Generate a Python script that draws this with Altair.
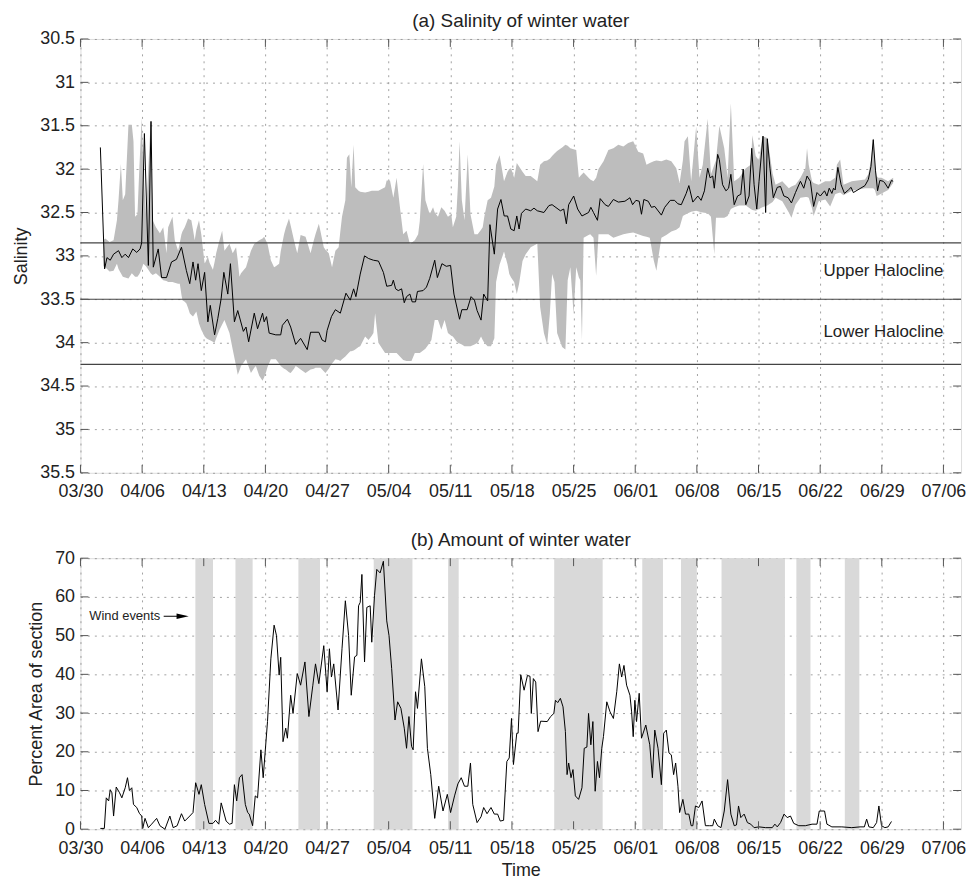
import altair as alt
import pandas as pd

# ---------------- data ----------------
X_TICKS = [0, 7, 14, 21, 28, 35, 42, 49, 56, 63, 70, 77, 84, 91, 98]
X_LABELS = ["03/30", "04/06", "04/13", "04/20", "04/27", "05/04", "05/11", "05/18",
            "05/25", "06/01", "06/08", "06/15", "06/22", "06/29", "07/06"]
SAL_TICKS = [30.5, 31, 31.5, 32, 32.5, 33, 33.5, 34, 34.5, 35, 35.5]
PCT_TICKS = [0, 10, 20, 30, 40, 50, 60, 70]
HALOCLINE = [32.85, 33.5, 34.25]
HALO_LABELS = ["Upper Halocline", "Lower Halocline"]
HALO_LABEL_SAL = [33.17, 33.88]

SAL_DAY = [2.26, 2.74, 3.01, 3.38, 3.76, 4.32, 4.70, 5.08, 5.45, 5.94, 6.39, 6.77, 6.95, 7.26, 7.71, 8.01,
           8.27, 8.83, 9.21, 9.77, 10.34, 10.9, 11.47, 12.03, 12.41, 12.78, 13.08, 13.35, 13.72, 14.1,
           14.47, 14.74, 15.23, 15.6, 15.98, 16.28, 16.73, 17.03, 17.48, 17.86, 18.5, 18.8, 19.1, 19.74,
           20.11, 20.68, 20.86, 21.13, 21.43, 22.18, 22.74, 22.93, 23.5, 23.87, 24.44, 25.0, 25.75,
           26.13, 27.07, 27.44, 27.82, 28.01, 28.5, 28.95, 29.51, 30.15, 30.64, 31.02, 31.28, 31.77,
           32.26, 32.71, 33.27, 33.84, 34.4, 34.78, 35.34, 35.53, 35.79, 36.09, 36.47, 36.77, 37.03,
           37.41, 37.67, 38.05, 38.27, 38.91, 39.29, 39.66, 40.23, 40.53, 41.05, 41.54, 42.03, 42.41,
           43.05, 43.31, 43.91, 44.36, 44.74, 45.04, 45.49, 45.79, 46.24, 46.5, 47.0, 47.37, 47.75,
           48.12, 48.5, 48.87, 49.25, 49.55, 49.81, 50.08, 50.56, 51.13, 51.5, 51.88, 52.63, 53.2,
           53.56, 54.5, 54.88, 55.18, 55.44, 56.01, 56.46, 56.95, 57.7, 57.96, 58.26, 58.71, 59.02,
           59.58, 59.95, 60.52, 61.08, 61.83, 62.4, 62.7, 63.08, 63.45, 63.71, 63.98, 64.47, 64.84,
           65.22, 65.97, 66.35, 66.98, 67.47, 67.85, 68.23, 68.79, 69.09, 69.54, 70.11, 70.48, 70.86,
           71.23, 71.5, 71.8, 71.98, 72.36, 72.55, 72.92, 73.3, 73.6, 73.86, 74.24, 74.62, 74.99,
           75.26, 75.56, 75.93, 76.23, 76.5, 76.8, 77.06, 77.51, 77.81, 78.0, 78.3, 78.68, 79.13,
           79.5, 79.88, 80.37, 80.74, 81.2, 81.76, 82.14, 82.51, 82.89, 83.26, 83.64, 84.02, 84.5,
           84.77, 85.03, 85.33, 85.52, 85.71, 86.01, 86.38, 86.76, 87.21, 87.51, 87.77, 89.09, 89.47,
           89.77, 90.03, 90.29, 90.52, 90.78, 91.16, 91.35, 91.72, 92.1, 92.29]
SAL_VAL = [31.75, 33.15, 33.02, 33.05, 32.98, 32.94, 33.02, 32.98, 33.02, 32.92, 32.96, 32.92, 32.85, 31.59,
           33.11, 31.45, 33.13, 32.92, 33.25, 33.25, 33.07, 33.04, 32.90, 33.17, 33.32, 33.07, 33.28,
           33.09, 33.40, 33.19, 33.76, 33.57, 33.91, 33.72, 33.49, 33.19, 33.44, 33.09, 33.76, 33.63,
           33.87, 33.82, 33.99, 33.66, 33.84, 33.66, 33.76, 33.70, 33.89, 33.91, 33.91, 33.80, 33.73,
           33.82, 34.02, 33.95, 34.08, 33.88, 33.88, 33.97, 33.99, 33.86, 33.70, 33.62, 33.66, 33.43,
           33.51, 33.38, 33.47, 33.21, 33.00, 33.03, 33.05, 33.06, 33.19, 33.35, 33.34, 33.28, 33.38,
           33.40, 33.38, 33.54, 33.47, 33.44, 33.53, 33.53, 33.41, 33.40, 33.36, 33.26, 33.05, 33.25,
           33.09, 33.12, 33.11, 33.44, 33.73, 33.62, 33.62, 33.47, 33.51, 33.63, 33.74, 33.44, 33.52,
           32.64, 32.98, 32.46, 32.35, 32.54, 32.54, 32.69, 32.71, 32.54, 32.69, 32.51, 32.46, 32.48,
           32.45, 32.48, 32.50, 32.42, 32.41, 32.48, 32.46, 32.63, 32.41, 32.31, 32.46, 32.54, 32.50,
           32.44, 32.50, 32.59, 32.34, 32.41, 32.43, 32.35, 32.38, 32.37, 32.33, 32.41, 32.36, 32.37,
           32.52, 32.35, 32.37, 32.44, 32.43, 32.53, 32.44, 32.36, 32.36, 32.40, 32.41, 32.28, 32.19,
           32.38, 32.31, 32.36, 32.25, 31.99, 32.10, 32.08, 32.22, 31.83, 31.89, 32.18, 32.25, 32.22,
           32.06, 32.41, 32.31, 32.29, 32.00, 32.41, 32.31, 31.76, 32.18, 32.46, 32.14, 31.62, 32.50,
           31.65, 31.99, 32.33, 32.21, 32.20, 32.31, 32.33, 32.39, 32.27, 32.14, 32.22, 32.08, 32.14,
           32.43, 32.27, 32.31, 32.25, 32.31, 32.22, 32.28, 32.22, 32.24, 31.98, 32.18, 32.28, 32.24,
           32.21, 32.27, 32.19, 32.12, 31.97, 31.66, 32.02, 32.25, 32.13, 32.14, 32.16, 32.22, 32.13,
           32.14]

BAND_DAY = [2.6, 2.82, 3.3, 3.76, 4.14, 4.32, 4.59, 4.81, 5.08, 5.45, 5.83, 6.02, 6.2, 6.47, 6.69, 6.95,
            7.14, 7.44, 7.71, 7.97, 8.2, 8.57, 9.02, 9.4, 9.77, 9.96, 10.45, 10.71, 11.09, 11.28, 11.47,
            11.58, 11.84, 12.03, 12.22, 12.41, 12.59, 12.78, 12.97, 13.16, 13.46, 13.72, 13.91, 14.1,
            14.29, 14.47, 14.66, 15.04, 15.23, 15.41, 15.79, 16.09, 16.35, 16.92, 17.29, 17.67, 17.86,
            18.05, 18.23, 18.8, 19.36, 19.74, 19.92, 20.3, 20.68, 20.86, 21.05, 21.24, 21.62, 21.99,
            22.18, 22.56, 22.74, 23.12, 23.31, 23.68, 23.87, 24.25, 24.44, 24.62, 25.0, 25.56, 26.13,
            26.5, 26.69, 27.07, 27.26, 27.63, 27.82, 28.2, 28.38, 28.57, 28.95, 29.32, 29.51, 29.7,
            30.08, 30.26, 30.53, 30.64, 30.75, 31.02, 31.2, 31.58, 31.77, 32.33, 32.71, 33.08, 33.27,
            33.46, 33.83, 34.59, 34.77, 35.15, 35.53, 35.9, 36.28, 36.65, 37.03, 37.41, 37.59, 37.97,
            38.35, 38.53, 38.65, 38.91, 39.17, 39.66, 39.85, 40.04, 40.23, 40.6, 40.98, 41.35, 41.73,
            42.11, 42.29, 42.67, 42.86, 43.05, 43.31, 43.61, 43.98, 44.29, 44.74, 45.11, 45.49, 45.68,
            45.86, 46.24, 46.62, 47.0, 47.2, 47.6, 48.1, 48.5, 48.7, 48.9, 49.25, 49.55, 49.81, 50.2,
            50.56, 51.13, 51.88, 52.2, 52.63, 53.0, 53.3, 53.56, 53.83, 54.13, 54.7, 55.07, 55.33,
            55.63, 56.0, 56.3, 56.6, 56.76, 56.95, 57.14, 57.7, 57.89, 58.26, 58.56, 58.83, 59.4,
            59.95, 60.52, 61.08, 61.65, 62.2, 62.77, 63.34, 63.9, 64.28, 64.65, 65.1, 65.4, 65.97,
            66.53, 67.1, 67.66, 68.04, 68.41, 68.6, 68.98, 69.35, 69.92, 70.3, 70.67, 71.23, 71.6,
            71.98, 72.17, 72.55, 73.11, 73.49, 73.86, 74.24, 74.8, 75.56, 76.12, 76.3, 76.68, 77.06,
            77.44, 78.0, 78.6, 78.94, 79.7, 80.44, 80.74, 81.2, 81.76, 82.32, 82.51, 82.7, 83.08,
            83.26, 83.83, 84.58, 85.14, 85.71, 85.9, 86.27, 86.65, 87.59, 89.09, 89.47, 89.77, 90.03,
            90.22, 90.41, 90.6, 90.97, 91.72, 92.29]
BAND_TOP = [32.82, 32.80, 32.84, 32.82, 32.59, 32.36, 31.94, 32.36, 32.29, 31.49, 31.49, 31.68, 32.55,
            32.52, 31.98, 31.41, 31.98, 32.52, 31.98, 31.45, 32.59, 32.67, 32.74, 32.67, 32.97, 32.67,
            32.55, 32.82, 32.94, 32.85, 32.75, 32.72, 32.67, 32.62, 32.57, 32.58, 32.59, 32.70, 32.82,
            32.70, 32.59, 32.75, 32.92, 33.09, 33.05, 33.01, 33.08, 33.16, 33.07, 32.97, 32.82, 32.71,
            32.94, 32.86, 32.97, 32.90, 33.05, 33.24, 33.20, 33.13, 32.94, 32.86, 32.85, 32.82, 32.80,
            32.78, 32.82, 32.86, 33.05, 33.13, 33.12, 33.09, 32.95, 32.75, 32.68, 32.57, 32.65, 32.82,
            32.90, 32.97, 32.76, 32.78, 32.97, 32.82, 32.75, 32.63, 32.72, 32.90, 32.93, 32.97, 33.05,
            33.13, 32.94, 32.90, 32.72, 32.55, 32.36, 31.87, 31.83, 32.00, 32.21, 31.72, 32.21, 32.25,
            32.26, 32.27, 32.26, 32.25, 32.25, 32.25, 32.25, 32.21, 32.13, 32.13, 32.33, 32.10, 32.44,
            32.75, 32.71, 32.86, 32.85, 32.82, 32.75, 32.60, 32.40, 31.94, 32.36, 32.52, 32.48, 32.44,
            32.50, 32.55, 32.44, 32.48, 32.55, 32.52, 32.67, 32.55, 32.20, 31.68, 32.36, 32.59, 31.83,
            32.52, 32.75, 32.75, 32.70, 32.67, 32.55, 32.36, 32.33, 32.20, 31.95, 31.84, 32.14, 32.03,
            32.00, 31.99, 32.10, 31.93, 31.97, 32.03, 32.08, 32.08, 32.14, 31.95, 31.91, 31.90, 31.88,
            31.85, 31.82, 31.79, 31.75, 31.72, 31.73, 31.76, 31.77, 31.78, 32.10, 32.08, 32.06, 32.04,
            32.10, 32.12, 32.14, 32.10, 32.00, 31.91, 31.78, 31.76, 31.72, 31.74, 31.70, 31.68, 31.80,
            31.82, 31.95, 31.93, 31.91, 31.90, 31.91, 31.89, 31.91, 31.99, 32.16, 31.90, 31.68, 31.62,
            32.14, 31.51, 32.10, 31.95, 31.42, 32.06, 31.95, 31.90, 31.50, 31.76, 32.10, 31.24, 32.14,
            32.10, 31.99, 31.95, 31.61, 31.85, 31.90, 31.62, 31.64, 32.05, 32.18, 32.14, 32.22, 32.20,
            32.18, 32.10, 31.99, 31.76, 31.95, 32.14, 32.16, 32.18, 32.14, 32.14, 32.10, 31.95, 31.89,
            32.18, 32.14, 32.12, 32.06, 31.90, 31.64, 31.95, 32.08, 32.10, 32.10, 32.14, 32.10]
BAND_BOT = [33.12, 33.13, 33.18, 33.17, 33.09, 33.15, 33.20, 33.24, 33.25, 33.26, 33.20, 33.22, 33.24,
            33.24, 33.21, 33.15, 33.09, 33.12, 33.16, 33.20, 33.22, 33.20, 33.24, 33.28, 33.29, 33.30,
            33.30, 33.31, 33.32, 33.32, 33.45, 33.51, 33.53, 33.55, 33.60, 33.66, 33.68, 33.70, 33.67,
            33.64, 33.78, 33.85, 33.89, 33.93, 33.95, 33.96, 33.97, 33.99, 34.00, 33.95, 33.85, 33.79,
            33.74, 33.89, 34.08, 34.27, 34.37, 34.32, 34.27, 34.19, 34.35, 34.29, 34.27, 34.38, 34.44,
            34.40, 34.35, 34.28, 34.19, 34.19, 34.19, 34.24, 34.27, 34.30, 34.31, 34.34, 34.35, 34.30,
            34.27, 34.28, 34.31, 34.35, 34.31, 34.30, 34.29, 34.29, 34.29, 34.33, 34.35, 34.30, 34.27,
            34.24, 34.19, 34.20, 34.21, 34.19, 34.16, 34.14, 34.11, 34.10, 34.10, 34.09, 34.08, 34.05,
            34.04, 33.93, 33.97, 33.92, 33.89, 33.66, 34.00, 34.12, 34.12, 34.12, 34.12, 34.12, 34.16,
            34.20, 34.21, 34.21, 34.21, 34.12, 34.12, 34.12, 34.11, 34.09, 34.07, 34.00, 33.97, 33.85,
            33.74, 33.74, 33.85, 33.74, 33.89, 33.92, 33.93, 33.98, 34.00, 34.01, 34.02, 34.04, 34.04,
            34.04, 34.02, 34.00, 33.93, 33.97, 34.00, 34.04, 34.04, 33.95, 33.30, 33.10, 32.95, 33.10,
            33.21, 33.25, 33.30, 33.44, 33.32, 33.06, 32.98, 32.90, 32.86, 33.59, 33.89, 34.02, 33.67,
            33.21, 33.30, 33.89, 34.05, 34.08, 33.28, 33.13, 33.67, 33.13, 33.25, 33.28, 33.97, 32.79,
            32.76, 32.75, 32.79, 33.23, 32.75, 32.75, 32.75, 32.79, 32.77, 32.75, 32.74, 32.73, 32.75,
            32.77, 32.78, 32.79, 33.05, 33.17, 32.79, 32.76, 32.72, 32.70, 32.67, 32.54, 32.53, 32.51,
            32.49, 32.48, 32.49, 32.50, 32.51, 32.55, 32.98, 32.56, 32.56, 32.56, 32.54, 32.46, 32.44,
            32.42, 32.42, 32.46, 32.47, 32.48, 32.46, 32.44, 32.42, 32.38, 32.33, 32.37, 32.50, 32.56,
            32.41, 32.33, 32.32, 32.32, 32.33, 32.45, 32.54, 32.37, 32.35, 32.43, 32.29, 32.28, 32.27,
            32.30, 32.25, 32.22, 32.22, 32.22, 32.22, 32.24, 32.31, 32.30, 32.28, 32.24, 32.16]

PCT_DAY = [2.26, 2.71, 2.93, 3.2, 3.38, 3.57, 3.76, 4.06, 4.44, 4.7, 5.08, 5.34, 5.56, 5.83, 6.02, 6.39,
           6.69, 6.95, 7.07, 7.33, 7.71, 8.08, 8.65, 9.02, 9.59, 10.15, 10.53, 10.98, 11.47, 11.84,
           12.41, 12.78, 13.08, 13.46, 13.72, 14.1, 14.59, 15.04, 15.34, 15.71, 15.98, 16.54, 16.92,
           17.22, 17.48, 17.74, 18.05, 18.35, 18.72, 18.99, 19.17, 19.55, 19.85, 20.11, 20.49, 20.75,
           21.24, 21.62, 21.99, 22.26, 22.56, 22.74, 23.0, 23.31, 23.5, 23.87, 24.14, 24.62, 25.0,
           25.49, 25.94, 26.39, 26.69, 27.07, 27.63, 28.01, 28.27, 28.5, 28.76, 29.25, 29.7, 30.08,
           30.45, 30.75, 31.13, 31.39, 31.58, 31.77, 31.96, 32.26, 32.52, 32.9, 33.08, 33.39, 33.65,
           34.03, 34.4, 34.78, 35.04, 35.34, 35.72, 36.02, 36.39, 36.77, 37.03, 37.3, 37.6, 37.78,
           38.05, 38.27, 38.72, 39.1, 39.4, 39.78, 40.23, 40.68, 41.17, 41.66, 42.03, 42.48, 42.86,
           43.24, 43.61, 43.99, 44.29, 44.55, 45.04, 45.49, 45.79, 46.17, 46.62, 47.0, 47.37, 47.67,
           48.05, 48.42, 48.69, 48.95, 49.17, 49.55, 49.7, 50.0, 50.38, 50.76, 51.05, 51.2, 51.43,
           51.7, 51.96, 52.26, 53.01, 53.39, 53.76, 53.94, 54.2, 54.5, 54.8, 55.07, 55.26, 55.44,
           55.71, 55.93, 56.2, 56.57, 56.95, 57.21, 57.51, 57.7, 57.96, 58.19, 58.45, 58.71, 58.94,
           59.2, 59.39, 59.77, 60.14, 60.52, 60.9, 61.2, 61.46, 61.72, 62.02, 62.4, 62.59, 62.77,
           62.96, 63.15, 63.45, 63.71, 64.2, 64.65, 64.95, 65.22, 65.59, 65.97, 66.23, 66.53, 66.83,
           67.1, 67.36, 67.59, 67.85, 68.04, 68.41, 68.71, 69.09, 69.35, 69.54, 69.84, 70.22, 70.59,
           70.97, 71.42, 71.8, 71.98, 72.36, 72.74, 73.11, 73.49, 73.86, 74.24, 74.5, 74.73, 74.99,
           75.37, 75.74, 76.12, 76.5, 77.06, 77.81, 78.56, 78.86, 79.13, 79.5, 79.9, 80.26, 80.63,
           81.0, 81.57, 82.32, 83.08, 83.64, 83.9, 84.5, 84.77, 85.33, 86.46, 87.59, 88.53, 89.02,
           89.28, 89.54, 90.03, 90.41, 90.67, 90.97, 91.35, 91.72, 92.1]
PCT_VAL = [0.2, 0.2, 8.1, 7.3, 10.2, 9.4, 3.4, 10.9, 9.4, 8.1, 10.7, 13.3, 10.0, 10.7, 6.4, 5.6, 4.1, 3.4,
           0.2, 2.8, 0.4, 1.3, 2.8, 0.9, 0.0, 3.4, 0.4, 0.9, 4.0, 2.1, 3.4, 4.3, 12.0, 9.0, 11.5, 6.4,
           1.5, 1.5, 2.3, 1.3, 6.8, 2.1, 1.3, 1.5, 11.5, 7.3, 13.3, 14.1, 6.4, 4.3, 3.9, 0.9, 8.6, 8.1,
           20.5, 13.3, 27.8, 44.0, 52.7, 50.0, 39.8, 44.4, 22.6, 26.1, 23.5, 34.6, 29.9, 40.2, 37.2,
           43.2, 29.1, 37.2, 42.7, 37.6, 47.4, 35.5, 46.6, 39.3, 42.7, 30.8, 46.6, 59.0, 50.0, 34.6,
           44.5, 44.9, 57.7, 58.6, 65.8, 43.2, 57.3, 57.7, 48.3, 60.3, 67.1, 66.2, 69.2, 53.8, 50.0,
           41.5, 28.2, 32.9, 31.2, 26.1, 20.9, 29.1, 21.4, 20.5, 35.5, 31.2, 44.0, 36.8, 20.9, 14.1,
           2.8, 11.1, 4.7, 9.0, 4.3, 8.6, 11.7, 13.3, 11.1, 11.1, 17.1, 6.4, 1.7, 3.2, 5.6, 4.0, 5.6,
           3.9, 3.9, 2.1, 2.3, 17.5, 18.4, 28.6, 16.7, 24.8, 24.8, 39.9, 35.9, 39.7, 39.5, 29.9, 38.9,
           38.0, 25.2, 27.9, 27.8, 29.1, 29.9, 33.3, 32.7, 33.8, 31.6, 25.2, 14.1, 17.1, 13.3, 15.4,
           8.6, 7.7, 10.7, 20.9, 21.2, 29.9, 21.8, 27.8, 9.8, 17.5, 13.3, 20.9, 23.9, 32.9, 30.3, 28.6,
           35.5, 42.7, 39.3, 42.3, 37.2, 34.6, 30.3, 23.9, 33.3, 27.8, 35.1, 23.5, 26.9, 21.8, 13.3,
           25.6, 20.9, 11.5, 24.8, 25.6, 19.7, 19.2, 14.1, 17.1, 11.1, 4.3, 7.7, 3.9, 3.9, 0.9, 0.9,
           6.0, 5.6, 7.3, 0.9, 0.9, 0.9, 2.6, 0.9, 0.4, 4.7, 12.8, 3.9, 0.9, 1.1, 6.0, 3.0, 3.9, 1.7,
           1.3, 0.4, 0.6, 0.4, 0.4, 1.3, 0.6, 1.7, 3.9, 3.0, 3.4, 1.5, 0.9, 0.9, 1.3, 1.3, 4.7, 4.7,
           1.3, 0.6, 0.6, 0.4, 0.6, 0.6, 2.6, 0.6, 0.4, 1.7, 6.0, 0.9, 0.4, 0.6, 2.0]

WIND_START = [13.05, 17.6, 24.75, 33.3, 41.75, 53.8, 63.8, 68.2, 72.8, 81.3, 86.8]
WIND_END = [15.05, 19.55, 27.2, 37.7, 42.95, 59.3, 66.15, 70.0, 80.0, 82.9, 88.45]

WIND_TEXT = "Wind events"
WIND_TEXT_POS = [1.0, 55.0]
ARROW_SHAFT = [9.45, 11.1]
ARROW_HEAD = 11.6

# ---------------- styling ----------------
W = 887
H1 = 437
H2 = 273
FONT = "Liberation Sans"
FRAME = "#555555"
TXT = "#222222"
TL = 8  # inward tick length

x_scale = alt.Scale(domain=[0, 100], nice=False, zero=False)
sal_scale = alt.Scale(domain=[30.5, 35.5], reverse=True, nice=False, zero=False)
pct_scale = alt.Scale(domain=[0, 70], nice=False, zero=False)

label_expr = "[" + ",".join("'" + s + "'" for s in X_LABELS) + "][round(datum.value / 7)]"

common_axis = dict(grid=True, ticks=False, domain=False,
                   gridDash=[2, 5], gridColor="#8a8a8a", gridWidth=0.8,
                   labelFontSize=18, titleFontSize=18, labelColor=TXT, titleColor=TXT,
                   labelFont=FONT, titleFont=FONT, titleFontWeight="normal", labelFlush=False)

x_axis_a = alt.Axis(values=X_TICKS, labelExpr=label_expr, title=None, labelPadding=10, **common_axis)
x_axis_b = alt.Axis(values=X_TICKS, labelExpr=label_expr, title="Time", titlePadding=5,
                    labelPadding=10, **common_axis)
sal_axis = alt.Axis(values=SAL_TICKS, format="~g", title="Salinity", titlePadding=9,
                    labelPadding=6, **common_axis)
pct_axis = alt.Axis(values=PCT_TICKS, format="d", title="Percent Area of section", titlePadding=9,
                    labelPadding=6, **common_axis)


def xenc(field, axis):
    return alt.X(field, type="quantitative", scale=x_scale, axis=axis)


def inward_ticks(yscale, yvalues, yaxis, xaxis, height):
    tx = pd.DataFrame({"t": X_TICKS})
    ty = pd.DataFrame({"v": yvalues})
    top = alt.Chart(tx).mark_rule(color=FRAME, strokeWidth=1).encode(
        x=xenc("t", xaxis), y=alt.value(0), y2=alt.value(TL))
    bot = alt.Chart(tx).mark_rule(color=FRAME, strokeWidth=1).encode(
        x=xenc("t", xaxis), y=alt.value(height - TL), y2=alt.value(height))
    left = alt.Chart(ty).mark_rule(color=FRAME, strokeWidth=1).encode(
        y=alt.Y("v:Q", scale=yscale, axis=yaxis), x=alt.value(0), x2=alt.value(TL))
    right = alt.Chart(ty).mark_rule(color=FRAME, strokeWidth=1).encode(
        y=alt.Y("v:Q", scale=yscale, axis=yaxis), x=alt.value(W - TL), x2=alt.value(W))
    return [top, bot, left, right]


def panel_title(text):
    return alt.TitleParams(text, fontSize=19, fontWeight="normal", font=FONT, color=TXT,
                           anchor="middle", frame="group", offset=-1)


# ---------------- panel (a) ----------------
band_df = pd.DataFrame({"day": BAND_DAY, "top": BAND_TOP, "bot": BAND_BOT})
sal_df = pd.DataFrame({"day": SAL_DAY, "sal": SAL_VAL})
halo_df = pd.DataFrame({"h": HALOCLINE})
halo_txt = pd.DataFrame({"day": [98.0, 98.0], "s": HALO_LABEL_SAL, "label": HALO_LABELS})

band = alt.Chart(band_df).mark_area(color="#bdbdbd", opacity=1, interpolate="linear").encode(
    x=xenc("day", x_axis_a),
    y=alt.Y("top:Q", scale=sal_scale, axis=sal_axis),
    y2="bot:Q",
)
halo = alt.Chart(halo_df).mark_rule(color="#444444", strokeWidth=1.1).encode(
    y=alt.Y("h:Q", scale=sal_scale, axis=sal_axis))
sal_line = alt.Chart(sal_df).mark_line(color="black", strokeWidth=1).encode(
    x=xenc("day", x_axis_a),
    y=alt.Y("sal:Q", scale=sal_scale, axis=sal_axis),
)
halo_lbl = alt.Chart(halo_txt).mark_text(align="right", baseline="middle", fontSize=17,
                                          font=FONT, color=TXT).encode(
    x=xenc("day", x_axis_a),
    y=alt.Y("s:Q", scale=sal_scale, axis=sal_axis),
    text="label:N",
)

panel_a = alt.layer(
    band, halo, sal_line, halo_lbl, *inward_ticks(sal_scale, SAL_TICKS, sal_axis, x_axis_a, H1)
).properties(width=W, height=H1, title=panel_title("(a) Salinity of winter water"))

# ---------------- panel (b) ----------------
wind_df = pd.DataFrame({"s": WIND_START, "e": WIND_END})
pct_df = pd.DataFrame({"day": PCT_DAY, "pct": PCT_VAL})
wtxt_df = pd.DataFrame({"day": [WIND_TEXT_POS[0]], "p": [WIND_TEXT_POS[1]], "label": [WIND_TEXT]})
shaft_df = pd.DataFrame({"d1": [ARROW_SHAFT[0]], "d2": [ARROW_SHAFT[1]], "p": [WIND_TEXT_POS[1]]})
head_df = pd.DataFrame({"day": [ARROW_HEAD], "p": [WIND_TEXT_POS[1]]})

wind = alt.Chart(wind_df).mark_rect(color="#d9d9d9").encode(
    x=xenc("s", x_axis_b), x2="e:Q")
pct_line = alt.Chart(pct_df).mark_line(color="black", strokeWidth=1).encode(
    x=xenc("day", x_axis_b),
    y=alt.Y("pct:Q", scale=pct_scale, axis=pct_axis),
)
wtxt = alt.Chart(wtxt_df).mark_text(align="left", baseline="middle", fontSize=13,
                                    font=FONT, color=TXT).encode(
    x=xenc("day", x_axis_b),
    y=alt.Y("p:Q", scale=pct_scale, axis=pct_axis),
    text="label:N",
)
shaft = alt.Chart(shaft_df).mark_rule(color="black", strokeWidth=1).encode(
    x=xenc("d1", x_axis_b), x2="d2:Q",
    y=alt.Y("p:Q", scale=pct_scale, axis=pct_axis),
)
head = alt.Chart(head_df).mark_point(shape="M-1,-0.45L1,0L-1,0.45Z", filled=True, size=150,
                                     color="black", opacity=1).encode(
    x=xenc("day", x_axis_b),
    y=alt.Y("p:Q", scale=pct_scale, axis=pct_axis),
)

panel_b = alt.layer(
    wind, pct_line, wtxt, shaft, head, *inward_ticks(pct_scale, PCT_TICKS, pct_axis, x_axis_b, H2)
).properties(width=W, height=H2, title=panel_title("(b) Amount of winter water"))

chart = alt.vconcat(panel_a, panel_b, spacing=29).properties(
    padding={"left": 4, "top": 0, "right": 0, "bottom": 0}
).configure_view(
    stroke=FRAME, strokeWidth=1
).configure(
    font=FONT, background="white"
)

chart.save("out.html", embed_options={"renderer": "svg", "actions": False})
